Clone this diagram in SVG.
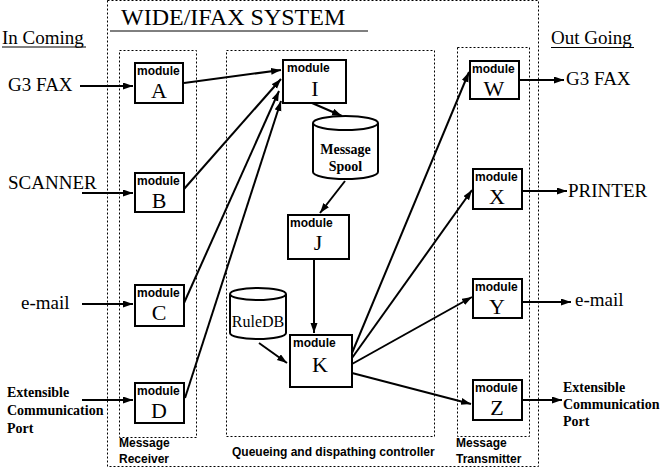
<svg xmlns="http://www.w3.org/2000/svg" width="662" height="469" viewBox="0 0 662 469">
<style>
.bg{fill:#fff}
.frame{fill:none;stroke:#000;stroke-width:1;stroke-dasharray:2 2}
.box{fill:#fff;stroke:#000;stroke-width:2}
.mod{font-family:"Liberation Sans",Arial,sans-serif;font-weight:bold;font-size:12px;fill:#000}
.let{font-family:"Liberation Serif","Times New Roman",serif;font-size:22px;fill:#000;text-anchor:middle}
.io{font-family:"Liberation Serif","Times New Roman",serif;font-size:19px;fill:#000}
.iob{font-family:"Liberation Serif","Times New Roman",serif;font-size:14px;font-weight:bold;fill:#000}
.lab{font-family:"Liberation Sans",Arial,sans-serif;font-weight:bold;font-size:12px;fill:#000}
.ul{stroke:#000;stroke-width:1}
.conn line{stroke:#000;stroke-width:2;marker-end:url(#ah)}
.cyl{fill:#fff;stroke:#000;stroke-width:2}
</style>
<defs>
<marker id="ah" markerUnits="userSpaceOnUse" markerWidth="11" markerHeight="8" refX="10" refY="3.5" orient="auto">
<path d="M0,0 L10,3.5 L0,7 z" fill="#000"/>
</marker>
</defs>
<rect class="bg" x="0" y="0" width="662" height="469"/>

<g id="frames">
<rect class="frame" x="107.5" y="0.5" width="431" height="466"/>
<rect class="frame" x="119.5" y="50.5" width="77" height="387"/>
<rect class="frame" x="226.5" y="50.5" width="208" height="386"/>
<rect class="frame" x="457.5" y="47.5" width="72" height="389"/>
</g>

<g id="titles">
<text x="121" y="25" font-family="'Liberation Serif','Times New Roman',serif" font-size="24">WIDE/IFAX SYSTEM</text>
<line class="ul" x1="110" y1="31" x2="368" y2="31"/>
<text class="io" x="2" y="44">In Coming</text>
<line class="ul" x1="2" y1="47" x2="86" y2="47"/>
<text class="io" x="551" y="44">Out Going</text>
<line class="ul" x1="551" y1="47.5" x2="634" y2="47.5"/>
<text class="lab" x="119" y="447">Message</text>
<text class="lab" x="119" y="463">Receiver</text>
<text class="lab" x="232" y="456">Queueing and dispathing controller</text>
<text class="lab" x="456" y="447">Message</text>
<text class="lab" x="456" y="463">Transmitter</text>
</g>

<g id="inputs">
<text class="io" x="8" y="91">G3 FAX</text>
<text class="io" x="8" y="189">SCANNER</text>
<text class="io" x="21" y="309">e-mail</text>
<text class="iob" x="7" y="397">Extensible</text>
<text class="iob" x="7" y="415">Communication</text>
<text class="iob" x="7" y="433">Port</text>
</g>

<g id="outputs">
<text class="io" x="566" y="85">G3 FAX</text>
<text class="io" x="568" y="197">PRINTER</text>
<text class="io" x="575" y="306">e-mail</text>
<text class="iob" x="563" y="392">Extensible</text>
<text class="iob" x="563" y="409">Communication</text>
<text class="iob" x="563" y="426">Port</text>
</g>

<g id="conns" class="conn">
<line x1="80" y1="86" x2="133" y2="86"/>
<line x1="82" y1="193" x2="133" y2="193"/>
<line x1="82" y1="304" x2="133" y2="304"/>
<line x1="82" y1="400" x2="133" y2="400"/>
<line x1="184" y1="83" x2="281" y2="70"/>
<line x1="184" y1="189" x2="281" y2="79"/>
<line x1="184" y1="303" x2="279" y2="91"/>
<line x1="185" y1="398" x2="281" y2="101"/>
<line x1="312" y1="103" x2="342" y2="116"/>
<line x1="345" y1="181" x2="320" y2="213"/>
<line x1="314" y1="259" x2="314" y2="333"/>
<line x1="259" y1="343" x2="287" y2="363"/>
<line x1="352" y1="353" x2="469" y2="72"/>
<line x1="352" y1="358" x2="472" y2="190"/>
<line x1="352" y1="364" x2="472" y2="297"/>
<line x1="352" y1="373" x2="471" y2="404"/>
<line x1="519" y1="80" x2="564" y2="80"/>
<line x1="522" y1="191" x2="567" y2="191"/>
<line x1="522" y1="302" x2="571" y2="302"/>
<line x1="522" y1="400" x2="562" y2="400"/>
</g>

<g id="moduleA"><rect class="box" x="135" y="63" width="48" height="40"/><text class="mod" x="137" y="74.5">module</text><text class="let" x="159" y="98">A</text></g>
<g id="moduleB"><rect class="box" x="135" y="173" width="49" height="39"/><text class="mod" x="137" y="184.5">module</text><text class="let" x="159" y="208">B</text></g>
<g id="moduleC"><rect class="box" x="135" y="285" width="49" height="41"/><text class="mod" x="137" y="296.5">module</text><text class="let" x="159" y="320">C</text></g>
<g id="moduleD"><rect class="box" x="135" y="383" width="49" height="40"/><text class="mod" x="137" y="394.5">module</text><text class="let" x="159" y="418">D</text></g>

<g id="moduleI"><rect class="box" x="283" y="60" width="63" height="43"/><text class="mod" x="287" y="71.5">module</text><text class="let" x="315" y="96">I</text></g>
<g id="spool">
<path class="cyl" d="M313,123 A32.5,7 0 0 1 378,123 L378,172 A32.5,7 0 0 1 313,172 Z"/>
<path d="M313,123 A32.5,7 0 0 0 378,123" fill="none" stroke="#000" stroke-width="2"/>
<text x="345.5" y="154" text-anchor="middle" font-family="'Liberation Serif','Times New Roman',serif" font-weight="bold" font-size="14">Message</text>
<text x="345.5" y="171" text-anchor="middle" font-family="'Liberation Serif','Times New Roman',serif" font-weight="bold" font-size="14">Spool</text>
</g>
<g id="moduleJ"><rect class="box" x="288" y="215" width="61" height="44"/><text class="mod" x="290" y="226.5">module</text><text class="let" x="318" y="250">J</text></g>
<g id="ruledb">
<path class="cyl" d="M230,294 A28,6 0 0 1 286,294 L286,333 A28,6 0 0 1 230,333 Z"/>
<path d="M230,294 A28,6 0 0 0 286,294" fill="none" stroke="#000" stroke-width="2"/>
<text x="258" y="327" text-anchor="middle" font-family="'Liberation Serif','Times New Roman',serif" font-size="16">RuleDB</text>
</g>
<g id="moduleK"><rect class="box" x="290" y="335" width="62" height="52"/><text class="mod" x="293" y="346.5">module</text><text class="let" x="320" y="372">K</text></g>

<g id="moduleW"><rect class="box" x="470" y="61" width="49" height="38"/><text class="mod" x="472" y="72.5">module</text><text class="let" x="494" y="96">W</text></g>
<g id="moduleX"><rect class="box" x="473" y="169" width="49" height="40"/><text class="mod" x="475" y="180.5">module</text><text class="let" x="497" y="204">X</text></g>
<g id="moduleY"><rect class="box" x="473" y="279" width="49" height="39"/><text class="mod" x="475" y="290.5">module</text><text class="let" x="497" y="314">Y</text></g>
<g id="moduleZ"><rect class="box" x="473" y="380" width="49" height="40"/><text class="mod" x="475" y="391.5">module</text><text class="let" x="497" y="415">Z</text></g>
</svg>
